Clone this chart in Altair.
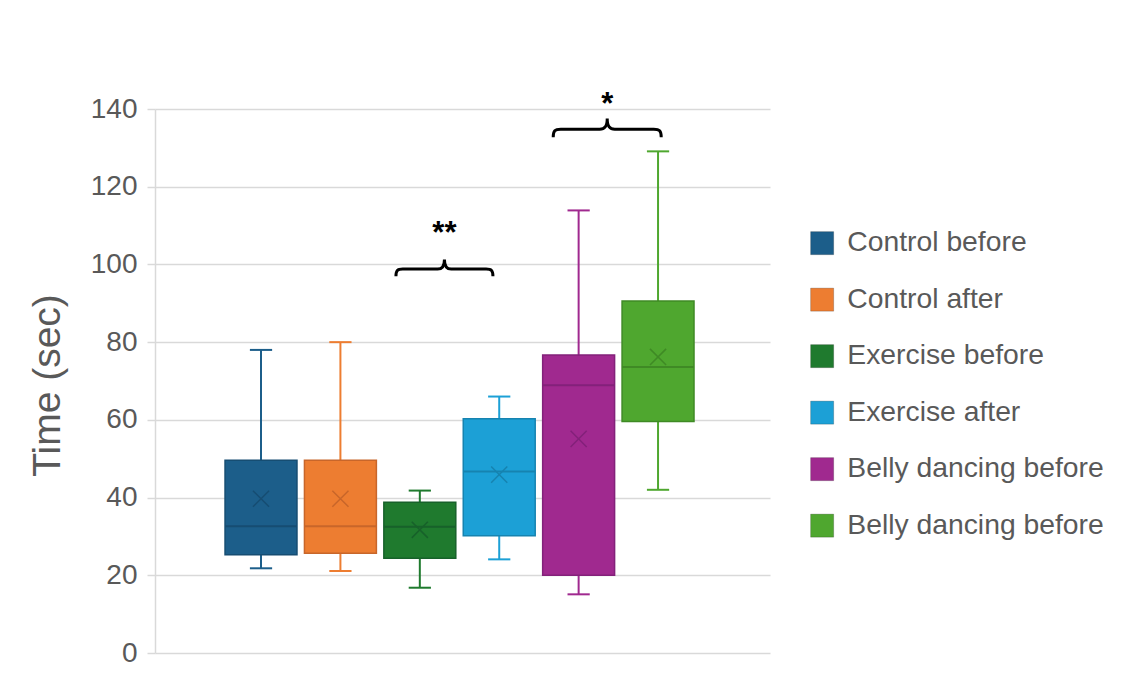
import json
import altair as alt
import pandas as pd

# ---- data ----
names = ["Control before", "Control after", "Exercise before", "Exercise after",
         "Belly dancing before", "Belly dancing before"]
fills = ["#1c5e8a", "#ed7d31", "#1f7a2e", "#1ca0d6", "#a0298f", "#4fa72f"]
darks = ["#164d72", "#c8662a", "#17612a", "#1683b0", "#83217a", "#3f8a25"]
whisk_min = [21.8, 21.1, 16.8, 24.1, 15.1, 42.0]
q1 = [25.3, 25.7, 24.4, 30.2, 20.0, 59.6]
median = [32.6, 32.6, 32.5, 46.7, 68.9, 73.6]
q3 = [49.6, 49.6, 38.8, 60.3, 76.7, 90.6]
whisk_max = [78.0, 80.0, 41.8, 66.0, 113.9, 129.1]
mean = [39.7, 39.7, 31.7, 45.9, 55.1, 76.2]

# significance annotations
sig_x = [2.31, 4.36]
brace_y = [98.8, 134.8]
brace_px = [97, 108]
star_y = [105.5, 138.8]
star_txt = ["**", "*"]

y_ticks = [0, 20, 40, 60, 80, 100, 120, 140]

BOX_HALF = 0.453
CAP_HALF = 0.14
GRID = "#d9d9d9"
TXT = "#595959"
FONT = "Liberation Sans"

df = pd.DataFrame({
    "idx": list(range(len(names))),
    "name": names,
    "fillc": fills,
    "dark": darks,
    "wmin": whisk_min,
    "q1": q1,
    "median": median,
    "q3": q3,
    "wmax": whisk_max,
    "mean": mean,
})
ann = pd.DataFrame({"x": sig_x, "by": brace_y, "px": brace_px, "sy": star_y, "t": star_txt})

xs = alt.Scale(domain=[-1.335, 6.41], nice=False, zero=False)
ys = alt.Scale(domain=[0, 140], nice=False)
yaxis = alt.Axis(values=y_ticks, title="Time (sec)", grid=True, gridColor=GRID, gridWidth=1.5,
                 domainColor=GRID, domainWidth=1.5, tickColor=GRID, tickSize=8, tickWidth=1.5,
                 labelFontSize=28, labelColor=TXT, labelFont=FONT, labelPadding=10,
                 titleFontSize=39, titleColor=TXT, titleFont=FONT, titleFontWeight="normal",
                 titleX=-108, titleY=276, titleAngle=-90, titleAlign="center",
                 titleBaseline="middle")

label_expr = json.dumps(names) + "[datum.value]"

base = alt.Chart(df).transform_calculate(
    lo=f"datum.idx - {BOX_HALF}", hi=f"datum.idx + {BOX_HALF}",
    clo=f"datum.idx - {CAP_HALF}", chi=f"datum.idx + {CAP_HALF}",
)

whisk_hi = base.mark_rule(strokeWidth=2).encode(
    x=alt.X("idx:Q", scale=xs, axis=None),
    y=alt.Y("q3:Q", scale=ys, axis=yaxis), y2="wmax:Q",
    color=alt.Color("fillc:N", scale=None))
whisk_lo = base.mark_rule(strokeWidth=2).encode(
    x=alt.X("idx:Q", scale=xs, axis=None),
    y=alt.Y("wmin:Q", scale=ys), y2="q1:Q",
    color=alt.Color("fillc:N", scale=None))
cap_hi = base.mark_rule(strokeWidth=2).encode(
    x=alt.X("clo:Q", scale=xs, axis=None), x2="chi:Q",
    y=alt.Y("wmax:Q", scale=ys), color=alt.Color("fillc:N", scale=None))
cap_lo = base.mark_rule(strokeWidth=2).encode(
    x=alt.X("clo:Q", scale=xs, axis=None), x2="chi:Q",
    y=alt.Y("wmin:Q", scale=ys), color=alt.Color("fillc:N", scale=None))

boxes = base.mark_bar(strokeWidth=1.5).encode(
    x=alt.X("lo:Q", scale=xs, axis=None), x2="hi:Q",
    y=alt.Y("q1:Q", scale=ys), y2="q3:Q",
    fill=alt.Fill("idx:N", scale=alt.Scale(domain=list(range(len(names))), range=fills),
                  legend=alt.Legend(orient="none", legendX=653, legendY=120, title=None,
                                    symbolType="square", symbolSize=530,
                                    symbolStrokeColor="#00000033", symbolStrokeWidth=1,
                                    labelFontSize=28.3, labelColor=TXT, labelFont=FONT,
                                    labelOffset=11, rowPadding=27.5, padding=0,
                                    labelLimit=400, labelExpr=label_expr)),
    stroke=alt.Stroke("dark:N", scale=None),
)

med = base.mark_rule(strokeWidth=2).encode(
    x=alt.X("lo:Q", scale=xs, axis=None), x2="hi:Q",
    y=alt.Y("median:Q", scale=ys), color=alt.Color("dark:N", scale=None))

xmark = base.mark_point(shape="M-1,-1L1,1M-1,1L1,-1", size=260, filled=False,
                        strokeWidth=1.5, opacity=1).encode(
    x=alt.X("idx:Q", scale=xs, axis=None),
    y=alt.Y("mean:Q", scale=ys), color=alt.Color("dark:N", scale=None))

BRACE = ("M-1,0.15 C-1,0.03 -0.97,0 -0.86,0 L-0.14,0 C-0.04,0 0,-0.06 0,-0.2 "
         "C0,-0.06 0.04,0 0.14,0 L0.86,0 C0.97,0 1,0.03 1,0.15")
braces = alt.Chart(ann).transform_calculate(sz="datum.px * datum.px").mark_point(
    shape=BRACE, filled=False, stroke="black", strokeWidth=3, opacity=1, clip=False
).encode(
    x=alt.X("x:Q", scale=xs, axis=None),
    y=alt.Y("by:Q", scale=ys),
    size=alt.Size("sz:Q", scale=None),
)
stars = alt.Chart(ann).mark_text(fontSize=31, font=FONT, fontWeight="bold", color="black",
                                 baseline="alphabetic", align="center").encode(
    x=alt.X("x:Q", scale=xs, axis=None),
    y=alt.Y("sy:Q", scale=ys),
    text="t:N",
)

chart = alt.layer(whisk_hi, whisk_lo, cap_hi, cap_lo, boxes, med, xmark, braces, stars).properties(
    width=615, height=544,
    autosize=alt.AutoSizeParams(type="none"),
    padding={"left": 147, "top": 101, "right": 356, "bottom": 21},
    background="white",
).configure_view(stroke=None)

chart.save("out.html", embed_options={"renderer": "svg", "actions": False})
